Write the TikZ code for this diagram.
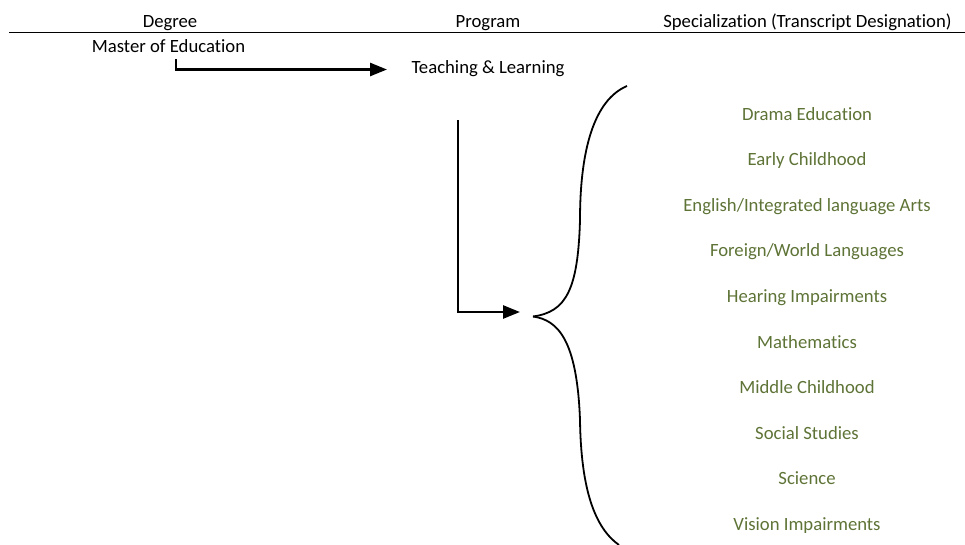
\documentclass[tikz,border=0pt]{standalone}
\usepackage{fontspec}
\setmainfont{Carlito}[Ligatures={TeX,NoCommon}]
\usetikzlibrary{arrows.meta}
\definecolor{olivetext}{HTML}{5E7336}
\tikzset{
  lbl/.style={inner sep=0pt, anchor=base, font=\fontsize{18.7}{20}\selectfont, text=black},
  spec/.style={lbl, text=olivetext},
  conn/.style={line width=2.6pt, -{Triangle[length=17pt,width=13pt]}},
  bracecurve/.style={line width=1.8pt}
}
\begin{document}
\begin{tikzpicture}[x=1pt,y=-1pt]
\useasboundingbox (0,0) rectangle (965,544);
\node[lbl] (hdeg) at (170,27) {Degree};
\node[lbl] (hprog) at (488,27) {Program};
\node[lbl] (hspec) at (807.5,27) {Specialization (Transcript Designation)};
\coordinate (ruleL) at (9,32.5);
\coordinate (ruleR) at (965,32.5);
\draw[line width=1.9pt] (ruleL) -- (ruleR);
\node[lbl] (med) at (168.5,52) {Master of Education};
\node[lbl] (tl) at (488,73.3) {Teaching \& Learning};
\coordinate (a1s) at (176,59);
\coordinate (a1e) at (387,69.5);
\draw[conn] (a1s) |- (a1e);
\coordinate (a2s) at (458,120);
\coordinate (a2e) at (520,312);
\draw[conn] (a2s) |- (a2e);
\coordinate (btip) at (533,316.5);
\coordinate (btop) at (627,86);
\coordinate (bbot) at (619,545);
\draw[bracecurve] (btip) .. controls (566,312) and (578,290) .. (580,220) .. controls (580,150) and (594,100) .. (btop);
\draw[bracecurve] (btip) .. controls (558,320) and (577,340) .. (580,420) .. controls (581,490) and (595,528) .. (bbot);
\node[spec] (s1) at (807,120) {Drama Education};
\node[spec] (s2) at (807,165.6) {Early Childhood};
\node[spec] (s3) at (807,211.2) {English/Integrated language Arts};
\node[spec] (s4) at (807,256.8) {Foreign/World Languages};
\node[spec] (s5) at (807,302.4) {Hearing Impairments};
\node[spec] (s6) at (807,348) {Mathematics};
\node[spec] (s7) at (807,393.6) {Middle Childhood};
\node[spec] (s8) at (807,439.2) {Social Studies};
\node[spec] (s9) at (807,484.8) {Science};
\node[spec] (s10) at (807,530.4) {Vision Impairments};
\end{tikzpicture}
\end{document}
